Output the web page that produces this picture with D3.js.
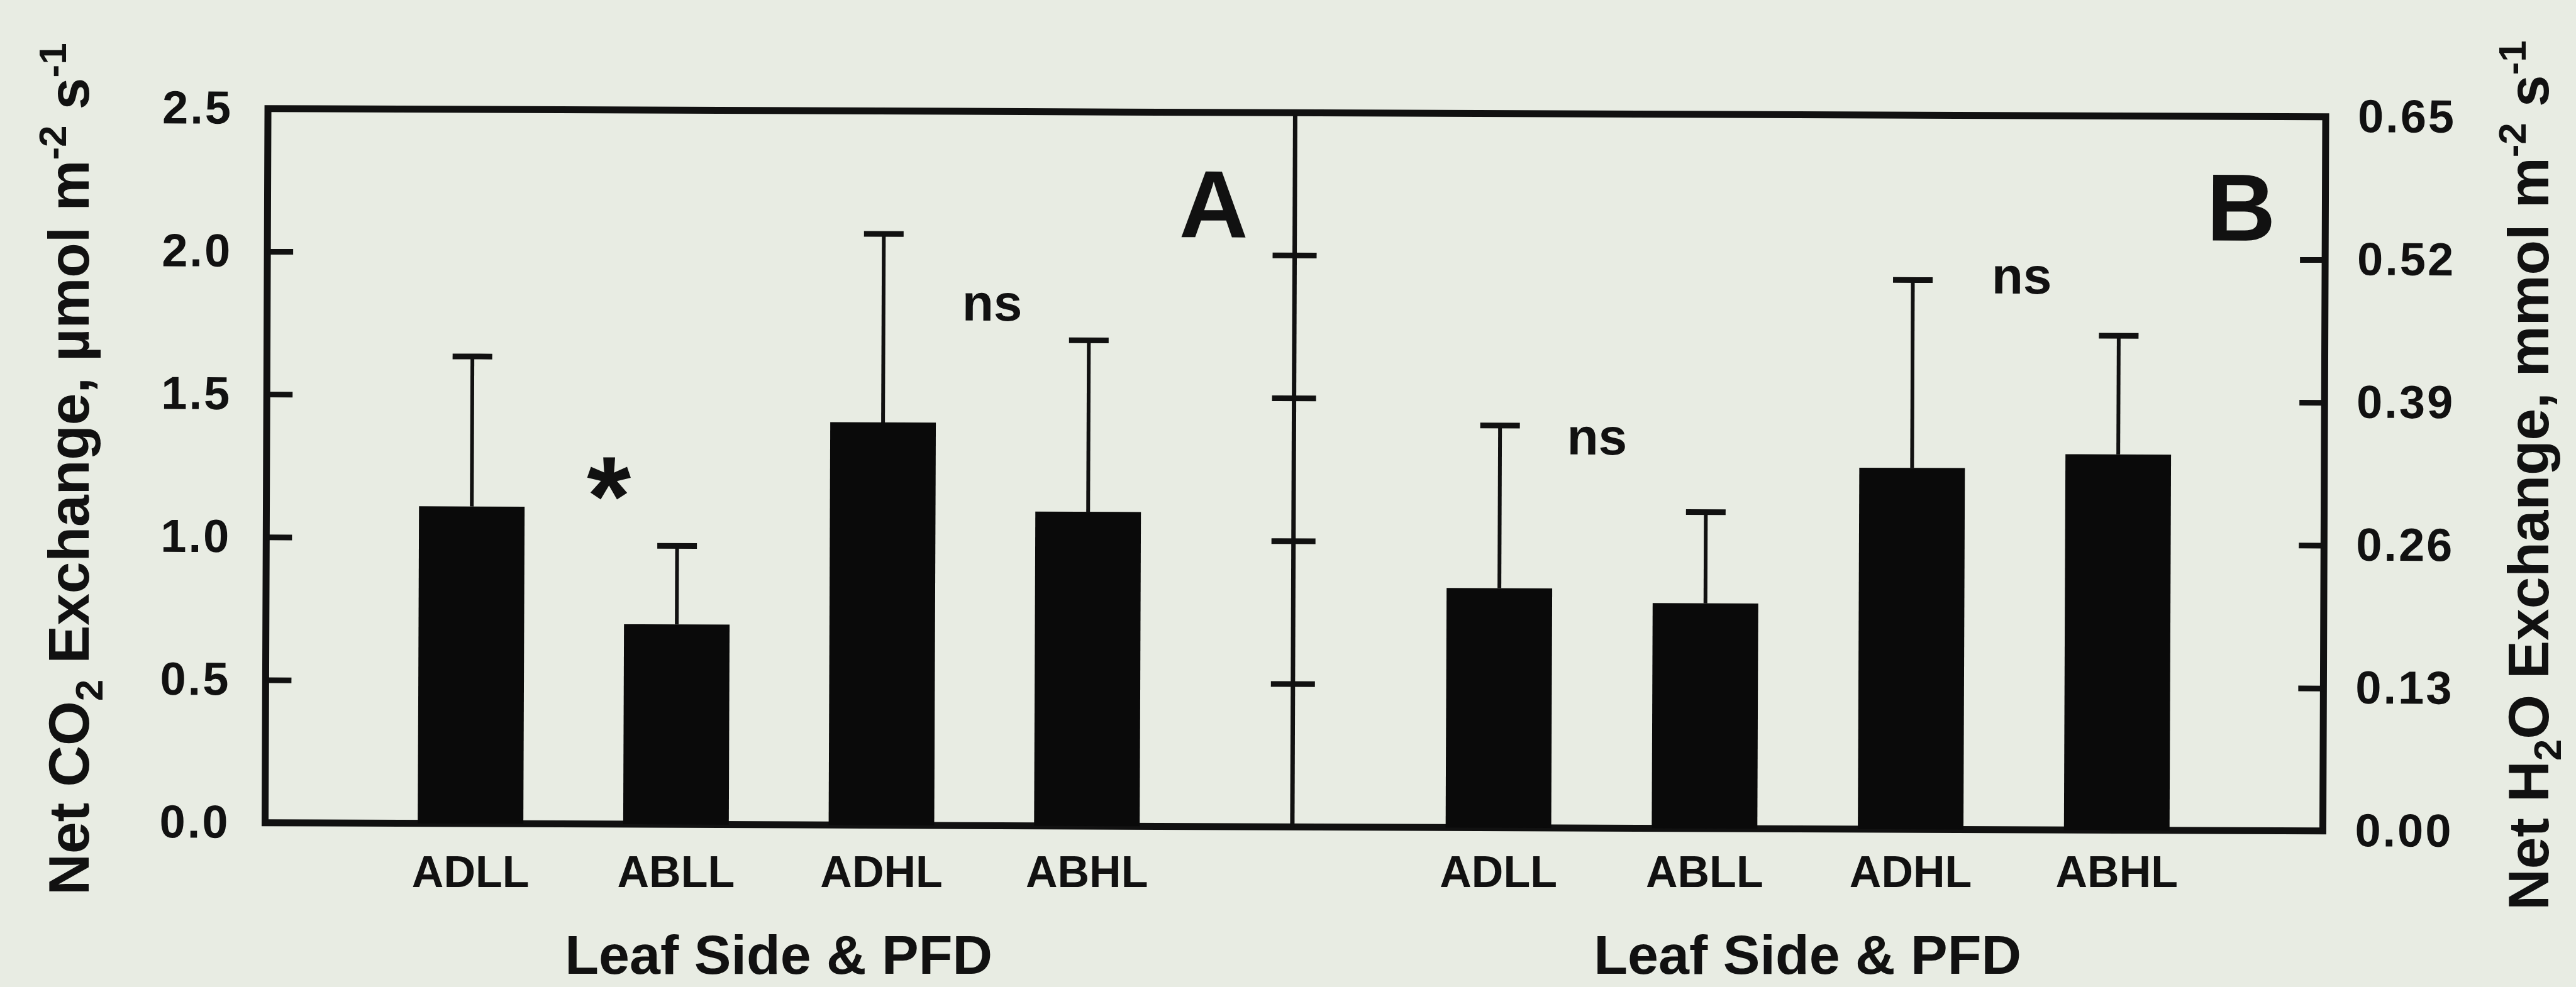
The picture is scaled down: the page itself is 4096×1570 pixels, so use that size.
<!DOCTYPE html>
<html>
<head>
<meta charset="utf-8">
<script src="https://cdn.jsdelivr.net/npm/d3@7"></script>
<style>
  html, body { margin: 0; padding: 0; background: #e8ece3; }
  svg { display: block; }
  text { font-family: "Liberation Sans", Arial, Helvetica, sans-serif; font-weight: bold; fill: #111; }
</style>
</head>
<body>
<script>
// ---- data ----
const categories = ["ADLL", "ABLL", "ADHL", "ABHL"];
const co2Mean = [1.11, 0.70, 1.41, 1.10];      // panel A, µmol m-2 s-1
const co2SE   = [0.525, 0.275, 0.66, 0.60];
const h2oMean = [0.218, 0.205, 0.329, 0.342];  // panel B, mmol m-2 s-1
const h2oSE   = [0.148, 0.083, 0.171, 0.108];
const co2Ticks = [0, 0.5, 1.0, 1.5, 2.0, 2.5];
const h2oTicks = [0, 0.13, 0.26, 0.39, 0.52, 0.65];
const panelLabels = ["A", "B"];
const xTitle = "Leaf Side & PFD";
// annotations: panel, position in category-index units, value on that panel's axis
const annotations = [
  { panel: 0, text: "*",  idx: 0.667, value: 1.229, kind: "star" },
  { panel: 0, text: "ns", idx: 2.529, value: 1.768, kind: "ns" },
  { panel: 1, text: "ns", idx: 0.471, value: 0.340, kind: "ns" },
  { panel: 1, text: "ns", idx: 2.528, value: 0.488, kind: "ns" }
];

(function () {
// ---- layout ----
const width = 4096, height = 1570;
const plotLeft = 421.5, plotTop = 172.7;
const W = 3272, H = 1136;
const xd = 1633.4;               // panel divider
const tilt = 0.23;               // slight tilt of the scanned frame

const svg = d3.select("body").append("svg")
  .attr("width", width).attr("height", height);
svg.append("rect").attr("width", width).attr("height", height).attr("fill", "#e8ece3");

const yL = d3.scaleLinear().domain([0, 2.5]).range([H, 0]);
const yR = d3.scaleLinear().domain([0, 0.65]).range([H, 0]);
const xA = d3.scalePoint().domain(categories).range([0, xd]).padding(1);
const xB = d3.scalePoint().domain(categories).range([xd, W]).padding(1);
const bw = xA.step() * 0.514;
const capW = 63;

const g = svg.append("g")
  .attr("transform", `translate(${plotLeft},${plotTop}) rotate(${tilt},0,${H})`);

// frame
g.append("rect").attr("x", 0).attr("y", 0).attr("width", W).attr("height", H)
  .attr("fill", "none").attr("stroke", "#111").attr("stroke-width", 11);

// divider with crossing ticks
g.append("line").attr("x1", xd).attr("x2", xd).attr("y1", 0).attr("y2", H)
  .attr("stroke", "#111").attr("stroke-width", 7);
g.selectAll(".dtick").data(co2Ticks.filter(t => t > 0 && t < 2.5)).join("line")
  .attr("class", "dtick")
  .attr("x1", xd - 35).attr("x2", xd + 35)
  .attr("y1", d => yL(d)).attr("y2", d => yL(d))
  .attr("stroke", "#111").attr("stroke-width", 9);

function styleAxis(sel) {
  sel.select(".domain").remove();
  sel.attr("font-size", null).attr("font-family", null);
  sel.selectAll(".tick line").attr("stroke", "#111").attr("stroke-width", 9);
  sel.selectAll(".tick text").attr("font-size", 74).attr("letter-spacing", 3).attr("fill", "#111");
}

g.append("g")
  .call(d3.axisLeft(yL).tickValues(co2Ticks).tickSize(-41).tickPadding(56).tickFormat(d3.format(".1f")))
  .call(styleAxis);

g.append("g").attr("transform", `translate(${W},0)`)
  .call(d3.axisRight(yR).tickValues(h2oTicks).tickSize(-40).tickPadding(51).tickFormat(d3.format(".2f")))
  .call(styleAxis);

// bars + error bars
const panels = [
  { x: xA, y: yL, mean: co2Mean, se: co2SE },
  { x: xB, y: yR, mean: h2oMean, se: h2oSE }
];
panels.forEach((p) => {
  const rows = categories.map((c, i) => ({ c, v: p.mean[i], e: p.se[i] }));
  const pg = g.append("g");
  pg.selectAll("rect").data(rows).join("rect")
    .attr("x", d => p.x(d.c) - bw / 2)
    .attr("y", d => p.y(d.v))
    .attr("width", bw)
    .attr("height", d => H - p.y(d.v))
    .attr("fill", "#0a0a0a");
  pg.selectAll(".stem").data(rows).join("line").attr("class", "stem")
    .attr("x1", d => p.x(d.c)).attr("x2", d => p.x(d.c))
    .attr("y1", d => p.y(d.v)).attr("y2", d => p.y(d.v + d.e))
    .attr("stroke", "#111").attr("stroke-width", 6);
  pg.selectAll(".cap").data(rows).join("line").attr("class", "cap")
    .attr("x1", d => p.x(d.c) - capW / 2).attr("x2", d => p.x(d.c) + capW / 2)
    .attr("y1", d => p.y(d.v + d.e)).attr("y2", d => p.y(d.v + d.e))
    .attr("stroke", "#111").attr("stroke-width", 9);
});

// panel letters
const letterPos = [{ idx: 3.773, value: 2.0625 }, { idx: 3.759, value: 0.537 }];
panelLabels.forEach((L, pi) => {
  const p = panels[pi];
  const step = p.x.step();
  g.append("text")
    .attr("x", p.x.range()[0] + step * (letterPos[pi].idx + 1))
    .attr("y", p.y(letterPos[pi].value))
    .attr("text-anchor", "end").attr("font-size", 152)
    .text(L);
});

// significance annotations
annotations.forEach(a => {
  const p = panels[a.panel];
  const x = p.x.range()[0] + p.x.step() * (a.idx + 1);
  const t = g.append("text").attr("x", x).attr("y", p.y(a.value))
    .attr("text-anchor", "middle").text(a.text);
  if (a.kind === "star") t.attr("font-size", 180).attr("dy", "0.55em");
  else t.attr("font-size", 82);
});

// category labels and x titles (not tilted)
const outer = svg.append("g").attr("transform", `translate(${plotLeft},0)`);
[xA, xB].forEach(x => {
  outer.append("g").selectAll("text").data(categories).join("text")
    .attr("x", d => x(d)).attr("y", 1411)
    .attr("text-anchor", "middle").attr("font-size", 70)
    .text(d => d);
  const r = x.range();
  outer.append("text").attr("x", (r[0] + r[1]) / 2).attr("y", 1549)
    .attr("text-anchor", "middle").attr("font-size", 88).text(xTitle);
});

// y titles
function yTitle(x, y, parts) {
  const t = svg.append("text")
    .attr("transform", `translate(${x},${y}) rotate(-90)`)
    .attr("text-anchor", "middle").attr("font-size", 91);
  parts.forEach(([s, dy, small]) => {
    const ts = t.append("tspan").text(s);
    if (dy) ts.attr("dy", dy);
    if (small) ts.attr("font-size", 62);
  });
}
yTitle(141, 746, [["Net CO"], ["2", 22, true], [" Exchange, \u00b5mol m", -22], ["-2", -36, true], [" s", 36], ["-1", -36, true]]);
yTitle(4052, 756, [["Net H"], ["2", 20, true], ["O Exchange, mmol m", -20], ["-2", -36, true], [" s", 36], ["-1", -36, true]]);
})();
</script>
</body>
</html>
